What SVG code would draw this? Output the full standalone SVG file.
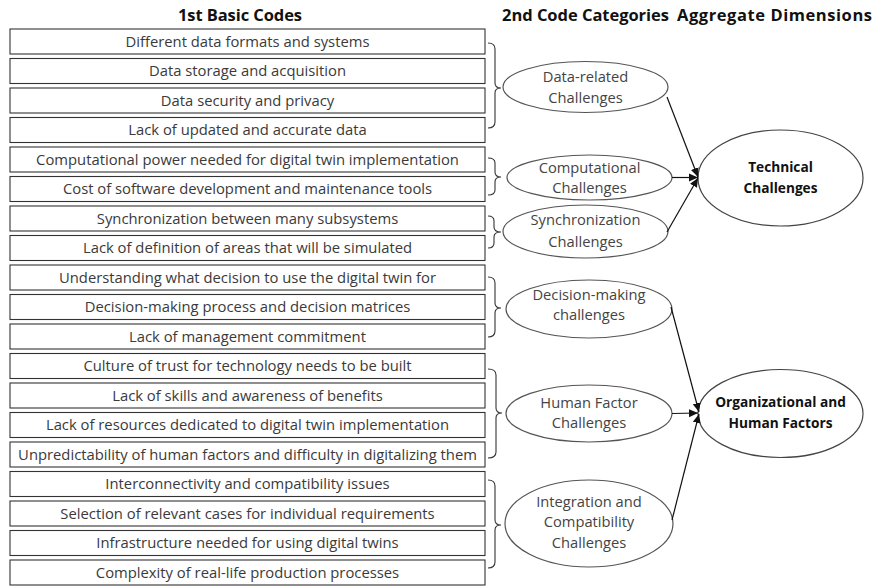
<svg xmlns="http://www.w3.org/2000/svg" width="877" height="586" viewBox="0 0 877 586">
<style>
.bg{fill:#fff}
.box rect{fill:#fff;stroke:#333;stroke-width:1.1}
.box text{font-family:"Open Sans","Liberation Sans",sans-serif;font-size:14.8px;fill:#3a3a3a;text-anchor:middle}
.hdr{font-family:"Open Sans","Liberation Sans",sans-serif;font-size:16.5px;font-weight:bold;fill:#111;text-anchor:middle}
.brace{fill:none;stroke:#333;stroke-width:1.1}
.cat ellipse{fill:#fff;stroke:#555;stroke-width:1.2}
.cat text{font-family:"Open Sans","Liberation Sans",sans-serif;font-size:14.7px;fill:#444;text-anchor:middle}
.agg ellipse{fill:#fff;stroke:#444;stroke-width:1.2}
.agg text{font-family:"Open Sans","Liberation Sans",sans-serif;font-size:13.7px;font-weight:bold;fill:#111;text-anchor:middle}
.conn line{stroke:#111;stroke-width:1.2;marker-end:url(#ah)}
</style>
<defs>
<marker id="ah" markerUnits="userSpaceOnUse" markerWidth="10" markerHeight="10" refX="9" refY="5" orient="auto">
<path d="M0,1 L9,5 L0,9 Z" fill="#111"/>
</marker>
</defs>
<rect class="bg" x="0" y="0" width="877" height="586"/>
<g id="headers">
<text class="hdr" x="240" y="21" textLength="124">1st Basic Codes</text>
<text class="hdr" x="585.5" y="21" textLength="167">2nd Code Categories</text>
<text class="hdr" x="774.5" y="21" textLength="195">Aggregate Dimensions</text>
</g>
<g id="code1" class="box"><rect x="10" y="29" width="475" height="25"/><text x="247.5" y="46.5">Different data formats and systems</text></g>
<g id="code2" class="box"><rect x="10" y="58.5" width="475" height="25"/><text x="247.5" y="76">Data storage and acquisition</text></g>
<g id="code3" class="box"><rect x="10" y="88" width="475" height="25"/><text x="247.5" y="105.5">Data security and privacy</text></g>
<g id="code4" class="box"><rect x="10" y="117.5" width="475" height="25"/><text x="247.5" y="135">Lack of updated and accurate data</text></g>
<g id="code5" class="box"><rect x="10" y="147" width="475" height="25"/><text x="247.5" y="164.5">Computational power needed for digital twin implementation</text></g>
<g id="code6" class="box"><rect x="10" y="176.5" width="475" height="25"/><text x="247.5" y="194">Cost of software development and maintenance tools</text></g>
<g id="code7" class="box"><rect x="10" y="206" width="475" height="25"/><text x="247.5" y="223.5">Synchronization between many subsystems</text></g>
<g id="code8" class="box"><rect x="10" y="235.5" width="475" height="25"/><text x="247.5" y="253">Lack of definition of areas that will be simulated</text></g>
<g id="code9" class="box"><rect x="10" y="265" width="475" height="25"/><text x="247.5" y="282.5">Understanding what decision to use the digital twin for</text></g>
<g id="code10" class="box"><rect x="10" y="294.5" width="475" height="25"/><text x="247.5" y="312">Decision-making process and decision matrices</text></g>
<g id="code11" class="box"><rect x="10" y="324" width="475" height="25"/><text x="247.5" y="341.5">Lack of management commitment</text></g>
<g id="code12" class="box"><rect x="10" y="353.5" width="475" height="25"/><text x="247.5" y="371">Culture of trust for technology needs to be built</text></g>
<g id="code13" class="box"><rect x="10" y="383" width="475" height="25"/><text x="247.5" y="400.5">Lack of skills and awareness of benefits</text></g>
<g id="code14" class="box"><rect x="10" y="412.5" width="475" height="25"/><text x="247.5" y="430">Lack of resources dedicated to digital twin implementation</text></g>
<g id="code15" class="box"><rect x="10" y="442" width="475" height="25"/><text x="247.5" y="459.5">Unpredictability of human factors and difficulty in digitalizing them</text></g>
<g id="code16" class="box"><rect x="10" y="471.5" width="475" height="25"/><text x="247.5" y="489">Interconnectivity and compatibility issues</text></g>
<g id="code17" class="box"><rect x="10" y="501" width="475" height="25"/><text x="247.5" y="518.5">Selection of relevant cases for individual requirements</text></g>
<g id="code18" class="box"><rect x="10" y="530.5" width="475" height="25"/><text x="247.5" y="548">Infrastructure needed for using digital twins</text></g>
<g id="code19" class="box"><rect x="10" y="560" width="475" height="25"/><text x="247.5" y="577.5">Complexity of real-life production processes</text></g>
<g id="braces">
<path class="brace" d="M488,43 Q495,43 495,49 L495,83 Q495,88 501,88 Q495,88 495,93 L495,122 Q495,128 488,128"/>
<path class="brace" d="M488,158 Q495,158 495,163 L495,172 Q495,177 501,177 Q495,177 495,182 L495,190 Q495,195 488,195"/>
<path class="brace" d="M488,216 Q494,216 494,221 L494,227 Q494,232 501,232 Q494,232 494,237 L494,243 Q494,248 488,248"/>
<path class="brace" d="M488,277 Q495,277 495,283 L495,303 Q495,308 501,308 Q495,308 495,313 L495,331 Q495,337 488,337"/>
<path class="brace" d="M488,369 Q496,369 496,375 L496,408 Q496,413 502,413 Q496,413 496,418 L496,452 Q496,458 488,458"/>
<path class="brace" d="M488,480 Q495,480 495,486 L495,520 Q495,525 501,525 Q495,525 495,530 L495,562 Q495,568 488,568"/>
</g>
<g id="cat-data" class="cat"><ellipse cx="585.5" cy="87" rx="82.5" ry="25.5"/><text x="585.5" y="82">Data-related</text><text x="585.5" y="103">Challenges</text></g>
<g id="cat-comp" class="cat"><ellipse cx="589.5" cy="177.5" rx="82.5" ry="22.5"/><text x="589.5" y="173">Computational</text><text x="589.5" y="193">Challenges</text></g>
<g id="cat-sync" class="cat"><ellipse cx="585.5" cy="231.5" rx="82.5" ry="26.5"/><text x="585.5" y="225">Synchronization</text><text x="585.5" y="247">Challenges</text></g>
<g id="cat-dec" class="cat"><ellipse cx="589" cy="309" rx="83" ry="29"/><text x="589" y="300">Decision-making</text><text x="589" y="320">challenges</text></g>
<g id="cat-hum" class="cat"><ellipse cx="589" cy="413.5" rx="83" ry="28.5"/><text x="589" y="408">Human Factor</text><text x="589" y="428">Challenges</text></g>
<g id="cat-int" class="cat"><ellipse cx="589" cy="523.5" rx="84" ry="43.5"/><text x="589" y="507">Integration and</text><text x="589" y="527">Compatibility</text><text x="589" y="548">Challenges</text></g>
<g id="agg-tech" class="agg"><ellipse cx="780.5" cy="178" rx="82.5" ry="48"/><text x="780.5" y="172">Technical</text><text x="780.5" y="193">Challenges</text></g>
<g id="agg-org" class="agg"><ellipse cx="780.5" cy="413.5" rx="82.5" ry="44"/><text x="780.5" y="407">Organizational and</text><text x="780.5" y="428">Human Factors</text></g>
<g id="connectors" class="conn">
<line x1="667" y1="97" x2="698" y2="177"/>
<line x1="672" y1="177.5" x2="698" y2="177.5"/>
<line x1="667" y1="232" x2="698" y2="178"/>
<line x1="671" y1="307" x2="699" y2="412"/>
<line x1="672" y1="413.5" x2="698" y2="413"/>
<line x1="672" y1="520" x2="699" y2="414"/>
</g>
</svg>
